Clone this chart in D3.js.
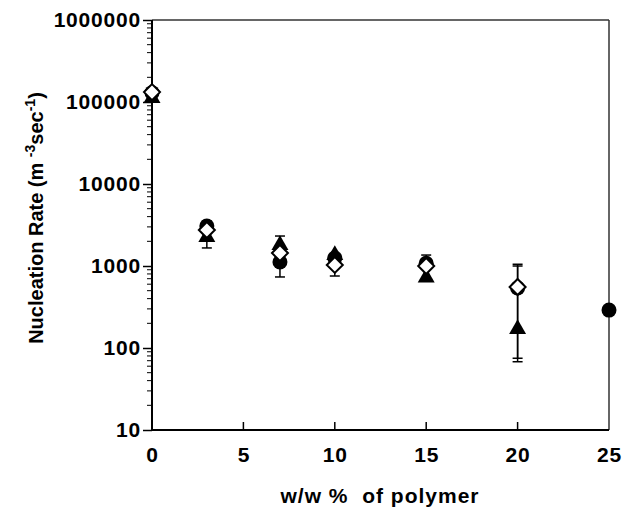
<!DOCTYPE html>
<html><head><meta charset="utf-8">
<script src="https://cdn.jsdelivr.net/npm/d3@7"></script>
<style>body{margin:0;background:#fff}svg{display:block}text{font-family:"Liberation Sans",Arial,sans-serif;font-weight:bold}</style>
</head><body>
<svg id="c" width="623" height="507"></svg>
<script>
// Data
const xTicks = [0, 5, 10, 15, 20, 25];
const yTicks = [10, 100, 1000, 10000, 100000, 1000000];
// circle series (filled)
const circleX = [0, 3, 7, 10, 15, 20, 25];
const circleY = [130000, 3080, 1120, 1250, 1080, 540, 290];
// triangle series (filled)
const triX = [0, 3, 7, 10, 15, 20];
const triY = [115000, 2320, 1850, 1400, 745, 175];
// diamond series (open)
const diaX = [0, 3, 7, 10, 15, 20];
const diaY = [132000, 2750, 1440, 1030, 1000, 555];
// error bars [x, low, high]
const errX = [3, 7, 10, 15, 20, 20];
const errLow = [1660, 735, 755, 1000, 68, 75];
const errHigh = [3540, 2320, 1400, 1360, 1050, 1000];

const svg = d3.select("#c");
const L = 152, R = 609, T = 20, B = 430;
const x = d3.scaleLinear().domain([0, 25]).range([L, R]);
const y = d3.scaleLog().domain([10, 1000000]).range([B, T]);

// frame top/right
svg.append("line").attr("x1", L).attr("x2", R).attr("y1", T).attr("y2", T).attr("stroke", "#333").attr("stroke-width", 1.5);
svg.append("line").attr("x1", R).attr("x2", R).attr("y1", T).attr("y2", B).attr("stroke", "#333").attr("stroke-width", 1.5);

// y minor ticks
const minor = [];
for (let d = 10; d < 1000000; d *= 10) for (let k = 2; k <= 9; k++) minor.push(d * k);
svg.append("g").selectAll("line").data(minor).join("line")
  .attr("x1", L - 5).attr("x2", L).attr("y1", d => y(d)).attr("y2", d => y(d))
  .attr("stroke", "#000").attr("stroke-width", 1);

const tickFont = sel => sel.attr("font-size", 21).attr("font-weight", "bold").attr("fill", "#000")
  .attr("letter-spacing", 0.8).attr("font-family", "Liberation Sans, Arial, sans-serif");

// y axis
const yAxis = d3.axisLeft(y).tickValues(yTicks).tickFormat(d3.format("d")).tickSize(9).tickPadding(2);
const gy = svg.append("g").attr("transform", `translate(${L},0)`).call(yAxis);
gy.select(".domain").attr("stroke-width", 2).attr("d", `M0,${T}V${B}`);
gy.selectAll(".tick line").attr("stroke-width", 1.5);
gy.selectAll(".tick text").call(tickFont);

// x axis (ticks inward)
const xAxis = d3.axisBottom(x).tickValues(xTicks).tickSize(0).tickPadding(17);
const gx = svg.append("g").attr("transform", `translate(0,${B})`).call(xAxis);
gx.select(".domain").attr("stroke-width", 2).attr("d", `M${L},0H${R}`);
gx.selectAll(".tick text").call(tickFont);
svg.append("g").selectAll("line").data(xTicks.filter(d => d > 0 && d < 25)).join("line")
  .attr("x1", d => x(d)).attr("x2", d => x(d)).attr("y1", B).attr("y2", B - 8)
  .attr("stroke", "#000").attr("stroke-width", 1.5);

// error bars
const eg = svg.append("g").attr("stroke", "#000").attr("stroke-width", 1.5);
errX.forEach((ex, i) => {
  const cx = x(ex);
  eg.append("line").attr("x1", cx).attr("x2", cx).attr("y1", y(errLow[i])).attr("y2", y(errHigh[i]));
  eg.append("line").attr("x1", cx - 5).attr("x2", cx + 5).attr("y1", y(errLow[i])).attr("y2", y(errLow[i]));
  eg.append("line").attr("x1", cx - 5).attr("x2", cx + 5).attr("y1", y(errHigh[i])).attr("y2", y(errHigh[i]));
});

// circles
svg.append("g").selectAll("circle").data(circleX.map((d, i) => [d, circleY[i]])).join("circle")
  .attr("cx", d => x(d[0])).attr("cy", d => y(d[1])).attr("r", 7.5).attr("fill", "#000");
// triangles
const tri = d3.symbol().type(d3.symbolTriangle).size(125);
svg.append("g").selectAll("path").data(triX.map((d, i) => [d, triY[i]])).join("path")
  .attr("d", tri).attr("transform", d => `translate(${x(d[0])},${y(d[1]) + 1})`).attr("fill", "#000");
// diamonds
svg.append("g").selectAll("path").data(diaX.map((d, i) => [d, diaY[i]])).join("path")
  .attr("d", d3.line()([[0, -8], [8, 0], [0, 8], [-8, 0]]) + "Z")
  .attr("transform", d => `translate(${x(d[0])},${y(d[1])})`)
  .attr("fill", "#fff").attr("stroke", "#000").attr("stroke-width", 2);

// axis titles
svg.append("text").attr("x", 380).attr("y", 503).attr("text-anchor", "middle").attr("font-size", 21)
  .attr("letter-spacing", 1).attr("xml:space", "preserve").text("w/w %  of polymer");
const yt = svg.append("text").attr("transform", "translate(43,218) rotate(-90)").attr("text-anchor", "middle").attr("font-size", 20);
yt.append("tspan").text("Nucleation Rate (m ");
yt.append("tspan").attr("font-size", 14).attr("dy", -8).text("-3");
yt.append("tspan").attr("dy", 8).text("sec");
yt.append("tspan").attr("font-size", 14).attr("dy", -8).text("-1");
yt.append("tspan").attr("dy", 8).text(")");
</script>
</body></html>
